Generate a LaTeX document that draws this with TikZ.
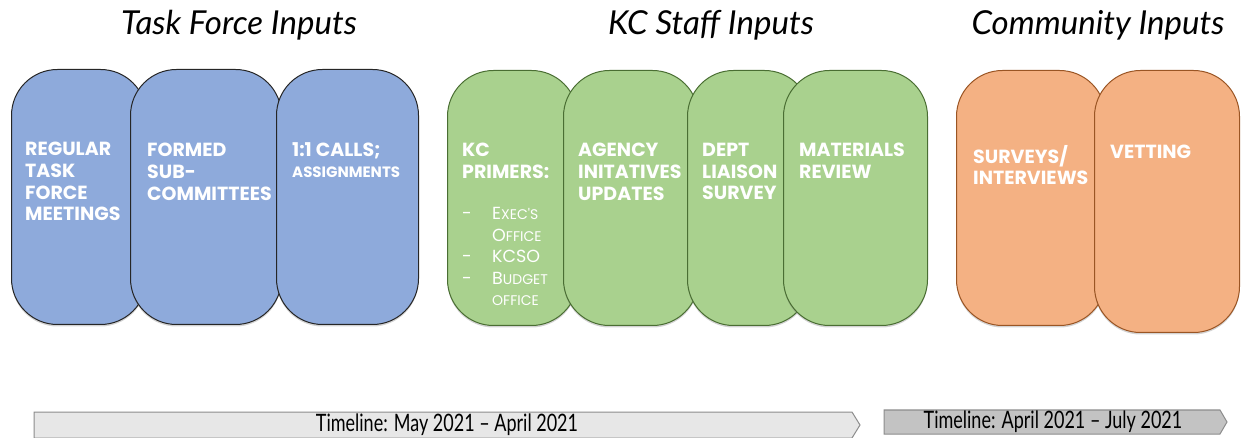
\documentclass[tikz,border=0pt]{standalone}
\usepackage{fontspec}
\usetikzlibrary{shadows}
\newfontfamily\boxfont{Poppins}
\newfontfamily\headfont{Lato}
\definecolor{tfblue}{HTML}{8EAADB}
\definecolor{kcgreen}{HTML}{A9D18E}
\definecolor{kcgreenline}{HTML}{4A6E33}
\definecolor{comorange}{HTML}{F4B183}
\definecolor{comorangeline}{HTML}{9A5524}
\definecolor{barone}{HTML}{E7E7E7}
\definecolor{bartwo}{HTML}{C3C3C3}
\definecolor{barline}{HTML}{8C8C8C}
\tikzset{
  pill/.style={rectangle, rounded corners=46pt, line width=1pt, anchor=north west,
    drop shadow={shadow xshift=0pt, shadow yshift=-2pt, opacity=0.35}},
  tfpill/.style={pill, fill=tfblue, draw=black!85},
  kcpill/.style={pill, fill=kcgreen, draw=kcgreenline},
  copill/.style={pill, fill=comorange, draw=comorangeline},
  pilltext/.style={anchor=north west, inner sep=0pt, text=white, align=left,
    font=\boxfont\bfseries\fontsize{19}{21.7}\selectfont},
  heading/.style={inner sep=0pt, anchor=base, font=\headfont\itshape\fontsize{33}{36}\selectfont},
  bartext/.style={inner sep=0pt, font=\headfont\fontsize{24}{26}\selectfont},
  barshape/.style={line width=1pt, draw=barline}
}
\newcommand{\bsqz}[1]{\scalebox{0.75}[1]{#1}}
\begin{document}
\begin{tikzpicture}[x=1pt,y=-1pt]
\useasboundingbox (0,0) rectangle (1243,438);

% headings
\node[heading] (h1) at (239,35) {Task Force Inputs};
\node[heading] (h2) at (711,35) {KC Staff Inputs};
\node[heading] (h3) at (1098,35) {Community Inputs};

% task force
\node[tfpill, minimum width=135pt, minimum height=255pt] (t1) at (11,69) {};
\node[tfpill, minimum width=151pt, minimum height=255pt] (t2) at (130,69) {};
\node[tfpill, minimum width=142pt, minimum height=255pt] (t3) at (276,69) {};
\node[pilltext] (t1t) at (25,142) {REGULAR\\TASK\\FORCE\\MEETINGS};
\node[pilltext] (t2t) at (147,143) {FORMED\\SUB-\\COMMITTEES};
\node[pilltext] (t3t) at (292,142) {1:1 CALLS;\\{\fontsize{15}{19}\selectfont ASSIGNMENTS}};

% KC staff
\node[kcpill, minimum width=130pt, minimum height=255pt] (k1) at (447,70) {};
\node[kcpill, minimum width=135pt, minimum height=255pt] (k2) at (563,70) {};
\node[kcpill, minimum width=123pt, minimum height=255pt] (k3) at (687,70) {};
\node[kcpill, minimum width=144pt, minimum height=255pt] (k4) at (783,70) {};
\node[pilltext] (k1t) at (462,143) {KC\\PRIMERS:};
\node[pilltext, font=\boxfont\fontsize{17.5}{21.6}\selectfont] (k1l) at (462,207) {%
  \makebox[30pt][l]{-}E{\fontsize{14}{21.6}\selectfont XEC'S}\\
  \makebox[30pt][l]{}O{\fontsize{14}{21.6}\selectfont FFICE}\\
  \makebox[30pt][l]{-}KCSO\\
  \makebox[30pt][l]{-}B{\fontsize{14}{21.6}\selectfont UDGET}\\
  \makebox[30pt][l]{}{\fontsize{14}{21.6}\selectfont OFFICE}};
\node[pilltext] (k2t) at (578,143) {AGENCY\\INITATIVES\\UPDATES};
\node[pilltext] (k3t) at (702,143) {DEPT\\LIAISON\\SURVEY};
\node[pilltext] (k4t) at (799,143) {MATERIALS\\REVIEW};

% community
\node[copill, minimum width=149pt, minimum height=255pt] (c1) at (956,70) {};
\node[copill, minimum width=145pt, minimum height=262pt] (c2) at (1094,70) {};
\node[pilltext] (c1t) at (973,145) {SURVEYS/\\INTERVIEWS};
\node[pilltext] (c2t) at (1110,145) {VETTING};

% timelines
\draw[barshape, fill=barone] (34,412) -- (852,412) -- (860,425) -- (852,438) -- (34,438) -- cycle;
\node[bartext] (tl1) at (447,425) {\bsqz{Timeline: May 2021 – April 2021}};
\draw[barshape, fill=bartwo] (884,410) -- (1220,410) -- (1227,422) -- (1220,434) -- (884,434) -- cycle;
\node[bartext] (tl2) at (1053,422) {\bsqz{Timeline: April 2021 – July 2021}};
\end{tikzpicture}
\end{document}
